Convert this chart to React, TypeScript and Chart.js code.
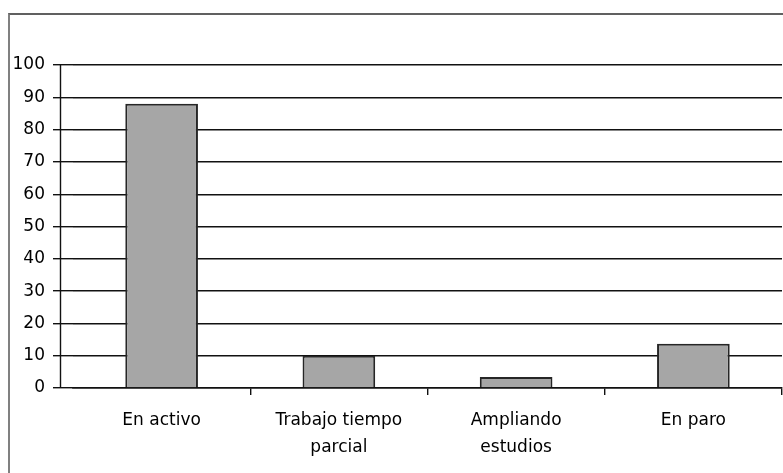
import React, { useEffect, useRef } from "react";
import { Chart, registerables } from "chart.js";

Chart.register(...registerables);

const categories: (string | string[])[] = [
  "En activo",
  ["Trabajo tiempo", "parcial"],
  ["Ampliando", "estudios"],
  "En paro",
];
const values: number[] = [88, 10, 3.4, 13.7];
const yMin = 0;
const yMax = 100;
const yStep = 10;

const FONT = "'DejaVu Sans', sans-serif";
const LINE = "#111";

const yAxisLinePlugin = {
  id: "yAxisLine",
  afterDraw(chart: any) {
    const { ctx, chartArea } = chart;
    const x = Math.round(chartArea.left - 13) + 0.5;
    ctx.save();
    ctx.strokeStyle = LINE;
    ctx.lineWidth = 1.4;
    ctx.beginPath();
    ctx.moveTo(x, chartArea.top);
    ctx.lineTo(x, chartArea.bottom);
    ctx.stroke();
    ctx.restore();
  },
};

export default function App() {
  const ref = useRef<HTMLCanvasElement | null>(null);

  useEffect(() => {
    if (!ref.current) return;
    const chart = new Chart(ref.current, {
      type: "bar",
      data: {
        labels: categories,
        datasets: [
          {
            data: values,
            backgroundColor: "#a6a6a6",
            borderColor: "#262626",
            borderWidth: 2,
            barPercentage: 0.41,
            categoryPercentage: 1,
          },
        ],
      },
      options: {
        responsive: false,
        animation: false,
        devicePixelRatio: 1,
        layout: { padding: { top: 50, right: 1, left: 0, bottom: 0 } },
        plugins: {
          legend: { display: false },
          tooltip: { enabled: false },
        },
        scales: {
          x: {
            grid: {
              display: true,
              drawOnChartArea: false,
              drawTicks: true,
              tickLength: 7,
              lineWidth: 1.4,
              color: (c: any) => (c.index === 0 ? "rgba(0,0,0,0)" : LINE),
              offset: true,
            },
            border: { display: true, color: LINE, width: 1.4 },
            ticks: {
              color: "#000",
              font: { family: FONT, size: 17, lineHeight: 1.6 },
              padding: 12,
              maxRotation: 0,
              autoSkip: false,
            },
            afterFit(scale: any) {
              scale.height = 85;
            },
          },
          y: {
            min: yMin,
            max: yMax,
            grid: {
              color: LINE,
              lineWidth: 1.4,
              tickLength: 20,
              drawTicks: true,
            },
            border: { display: false },
            ticks: {
              stepSize: yStep,
              color: "#000",
              font: { family: FONT, size: 17 },
              padding: 8,
            },
            afterFit(scale: any) {
              scale.width = 63;
            },
          },
        },
      },
      plugins: [yAxisLinePlugin],
    });
    return () => chart.destroy();
  }, []);

  return (
    <div
      style={{
        position: "absolute",
        left: 8,
        top: 13,
        borderLeft: "2px solid #808080",
        borderTop: "2px solid #606060",
        width: 773,
        height: 458,
        background: "#fff",
      }}
    >
      <canvas ref={ref} width={773} height={458} style={{ display: "block" }} />
    </div>
  );
}
